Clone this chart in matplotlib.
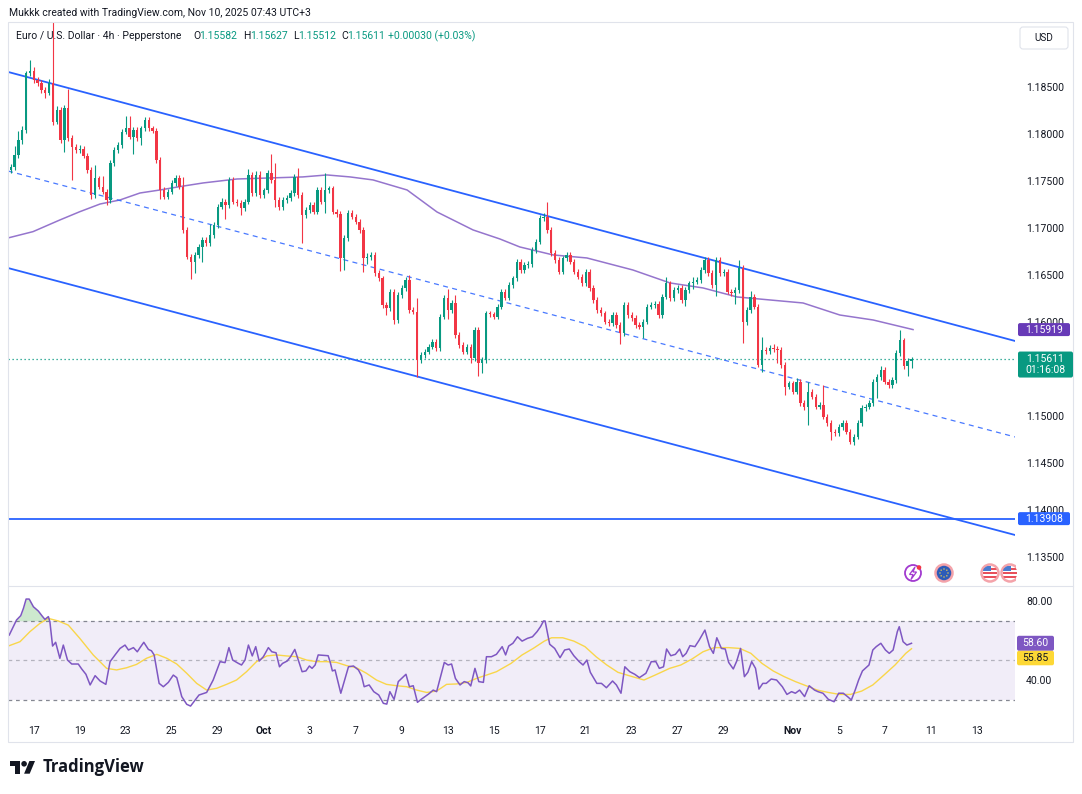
import numpy as np
import matplotlib
matplotlib.use("Agg")
import matplotlib.pyplot as plt
from matplotlib.patches import FancyBboxPatch, Circle, Rectangle, Polygon

# ---------------- data ----------------
first_open = 1.17620
close = [
    1.17652, 1.17777, 1.17936, 1.18042, 1.18645, 1.18670, 1.18575, 1.18539, 1.18468, 1.18433, 1.18539, 1.18131,
    1.18255, 1.17936, 1.18273, 1.17954, 1.17865, 1.17830, 1.17840, 1.17770, 1.17617, 1.17351, 1.17528, 1.17440,
    1.17387, 1.17298, 1.17688, 1.17830, 1.17883, 1.18025, 1.18060, 1.17972, 1.18042, 1.17954, 1.18060, 1.18149,
    1.18060, 1.18035, 1.17723, 1.17404, 1.17333, 1.17387, 1.17475, 1.17530, 1.17440, 1.16979, 1.16695, 1.16642,
    1.16713, 1.16801, 1.16872, 1.16837, 1.16926, 1.17032, 1.17227, 1.17280, 1.17245, 1.17511, 1.17280, 1.17265,
    1.17209, 1.17280, 1.17564, 1.17369, 1.17564, 1.17351, 1.17400, 1.17582, 1.17511, 1.17300, 1.17220, 1.17298,
    1.17316, 1.17369, 1.17546, 1.17351, 1.17138, 1.17192, 1.17245, 1.17174, 1.17404, 1.17280, 1.17404, 1.17420,
    1.17174, 1.17150, 1.16677, 1.16890, 1.17156, 1.17121, 1.17067, 1.16979, 1.16677, 1.16695, 1.16713, 1.16518,
    1.16464, 1.16181, 1.16145, 1.16323, 1.16021, 1.16287, 1.16358, 1.16447, 1.16128, 1.16110, 1.15596, 1.15649,
    1.15685, 1.15738, 1.15791, 1.15720, 1.16057, 1.16252, 1.16128, 1.16199, 1.15862, 1.15755, 1.15685, 1.15738,
    1.15613, 1.15915, 1.15560, 1.15596, 1.16092, 1.16080, 1.16057, 1.16163, 1.16320, 1.16260, 1.16394, 1.16464,
    1.16642, 1.16553, 1.16606, 1.16620, 1.16766, 1.16855, 1.17103, 1.17121, 1.16979, 1.16731, 1.16660, 1.16535,
    1.16677, 1.16713, 1.16642, 1.16535, 1.16482, 1.16411, 1.16535, 1.16358, 1.16234, 1.16128, 1.16092, 1.16004,
    1.15986, 1.16074, 1.15968, 1.15880, 1.16181, 1.16074, 1.16039, 1.15968, 1.15950, 1.16004, 1.16163, 1.16181,
    1.16190, 1.16074, 1.16270, 1.16411, 1.16252, 1.16340, 1.16358, 1.16234, 1.16340, 1.16411, 1.16429, 1.16445,
    1.16553, 1.16660, 1.16518, 1.16394, 1.16660, 1.16518, 1.16536, 1.16323, 1.16305, 1.16340, 1.16571, 1.16004,
    1.16128, 1.16269, 1.16163, 1.15542, 1.15702, 1.15690, 1.15720, 1.15715, 1.15702, 1.15542, 1.15312, 1.15347,
    1.15259, 1.15365, 1.15135, 1.15099, 1.15259, 1.15206, 1.15099, 1.15117, 1.14993, 1.14922, 1.14833, 1.14816,
    1.14886, 1.14922, 1.14833, 1.14727, 1.14780, 1.14922, 1.15082, 1.15099, 1.15135, 1.15365, 1.15418, 1.15489,
    1.15365, 1.15330, 1.15383, 1.15667, 1.15808, 1.15530, 1.15582, 1.15611,
]
upper_wick_pips = [
    3, 9, 10, 4, 3, 12, 4, 3, 3, 3, 5, 65,
    4, 3, 3, 20, 3, 3, 4, 3, 3, 3, 14, 3,
    11, 3, 3, 3, 3, 3, 13, 13, 3, 3, 3, 3,
    3, 3, 3, 3, 3, 3, 3, 3, 3, 10, 3, 3,
    3, 3, 3, 3, 12, 3, 3, 4, 3, 3, 3, 3,
    3, 3, 6, 3, 4, 4, 3, 3, 21, 18, 3, 3,
    3, 3, 3, 9, 3, 3, 3, 3, 3, 3, 18, 3,
    3, 3, 3, 3, 3, 3, 3, 3, 3, 4, 3, 3,
    3, 3, 3, 3, 3, 3, 3, 3, 5, 3, 14, 3,
    3, 3, 3, 3, 3, 3, 10, 3, 9, 3, 3, 3,
    3, 3, 3, 3, 3, 3, 3, 3, 3, 3, 3, 3,
    3, 3, 3, 3, 3, 3, 3, 4, 16, 3, 3, 3,
    3, 3, 3, 3, 3, 3, 3, 3, 3, 3, 3, 3,
    3, 3, 3, 3, 3, 3, 3, 3, 3, 3, 3, 3,
    3, 3, 3, 7, 3, 3, 3, 3, 3, 3, 5, 3,
    3, 3, 3, 3, 3, 3, 3, 3, 3, 3, 9, 3,
    3, 6, 3, 3, 14, 3, 3, 5, 3, 3, 3, 3,
    3, 4, 3, 3, 10, 3, 3, 3, 21, 3, 3, 3,
    3, 3, 3, 3, 3, 3, 3, 3, 3, 3, 3, 4,
    3, 3, 3, 3, 11, 2, 3, 1.6,
]
lower_wick_pips = [
    3, 4, 3, 4, 3, 3, 3, 3, 3, 5, 2, 4,
    3, 3, 13, 3, 35, 3, 3, 3, 3, 4, 3, 3,
    3, 5, 3, 3, 3, 3, 3, 3, 18, 3, 7, 3,
    3, 3, 3, 10, 3, 3, 3, 3, 3, 3, 2, 18,
    12, 3, 16, 3, 3, 3, 3, 3, 15, 3, 3, 3,
    7, 3, 3, 3, 3, 3, 3, 3, 3, 8, 3, 3,
    3, 3, 3, 3, 30, 3, 3, 3, 3, 3, 12, 3,
    3, 3, 14, 12, 3, 3, 3, 3, 15, 6, 4, 3,
    3, 3, 7, 3, 4, 3, 3, 3, 3, 3, 18, 3,
    3, 3, 3, 3, 3, 3, 10, 3, 3, 3, 3, 3,
    5, 3, 14, 10, 3, 3, 3, 3, 3, 3, 3, 3,
    3, 3, 3, 3, 3, 3, 3, 3, 3, 3, 3, 3,
    3, 3, 3, 3, 3, 3, 3, 3, 3, 3, 3, 3,
    3, 3, 3, 11, 3, 3, 3, 3, 3, 12, 3, 3,
    3, 3, 3, 3, 3, 3, 3, 3, 6, 3, 6, 3,
    3, 3, 3, 3, 12, 3, 3, 3, 3, 11, 3, 23,
    4, 3, 3, 2, 7, 3, 3, 3, 14, 3, 9, 3,
    3, 3, 3, 4, 20, 3, 3, 3, 3, 3, 9, 3,
    3, 3, 3, 3, 4, 3, 3, 3, 3, 3, 17, 3,
    3, 3, 3, 3, 3, 3, 11, 7,
]
change_abs = 0.00030
change_pct = 0.03
ma_pts = [(-0.7, 1.16894), (5.8, 1.16961), (12.8, 1.17085), (18.0, 1.17173), (23.3, 1.17255),
          (28.5, 1.17298), (33.7, 1.17372), (38.9, 1.17404), (44.1, 1.17440), (50.2, 1.17479),
          (59.0, 1.17521), (67.6, 1.17532), (76.2, 1.17543), (82.5, 1.17564), (88.5, 1.17543),
          (94.5, 1.17511), (103.4, 1.17404), (111.2, 1.17170), (120.6, 1.16979), (127.6, 1.16883),
          (132.8, 1.16798), (141.5, 1.16713), (150.3, 1.16681), (162.3, 1.16553), (172.0, 1.16415),
          (180.6, 1.16362), (189.5, 1.16266), (198.1, 1.16234), (206.7, 1.16202), (216.3, 1.16074),
          (225.0, 1.16021), (235.4, 1.15919)]
rsi_pts = [(-0.4, 62.8), (0.66, 67.0), (1.5, 70.4), (2.6, 72.6), (3.3, 76.3), (4.0, 81.0), (4.8, 81.0),
           (5.9, 77.1), (7.2, 74.9), (8.1, 72.6), (8.9, 70.7), (9.8, 72.1), (10.2, 69.5), (10.9, 57.2),
           (11.7, 59.1), (12.8, 51.0), (13.7, 57.7), (14.8, 50.1), (15.9, 48.1), (17.6, 48.1), (18.5, 45.6),
           (19.6, 42.9), (20.7, 37.5), (22.0, 42.2), (23.3, 39.5), (24.8, 37.8), (25.9, 49.3), (27.2, 52.7),
           (28.5, 56.0), (29.8, 57.7), (30.7, 55.2), (32.0, 56.4), (33.0, 54.3), (33.9, 56.9), (34.7, 59.1),
           (35.9, 55.5), (36.7, 54.8), (37.4, 52.7), (38.7, 38.3), (39.8, 36.6), (41.1, 38.8), (42.4, 42.5),
           (43.3, 41.2), (44.6, 31.6), (45.9, 27.7), (46.9, 26.8), (48.1, 29.9), (49.1, 32.4), (51.1, 33.7),
           (52.8, 40.0), (54.6, 49.3), (55.9, 48.8), (56.9, 56.4), (57.9, 50.1), (59.4, 48.4), (60.2, 47.6),
           (61.1, 50.1), (62.0, 57.7), (63.0, 52.2), (63.9, 56.9), (64.8, 49.6), (65.9, 51.8), (67.2, 56.4),
           (68.1, 54.3), (69.2, 53.8), (70.1, 46.7), (70.9, 48.4), (72.1, 49.6), (73.0, 51.8), (74.1, 55.5),
           (75.0, 50.1), (76.0, 44.2), (77.0, 44.6), (77.9, 47.1), (78.6, 45.9), (79.4, 47.6), (80.2, 52.7),
           (82.8, 52.3), (83.3, 49.3), (83.9, 44.6), (84.6, 45.1), (86.1, 33.3), (88.1, 46.7), (89.4, 47.1),
           (90.7, 45.1), (91.5, 42.2), (92.2, 36.6), (93.5, 37.5), (94.7, 34.1), (96.0, 32.4), (97.2, 28.2),
           (98.1, 27.8), (98.9, 34.1), (100.0, 30.2), (101.1, 39.2), (103.1, 42.9), (104.0, 36.6),
           (105.0, 37.1), (106.1, 28.7), (107.2, 30.4), (109.0, 32.9), (110.2, 34.9), (111.1, 34.1),
           (112.0, 40.8), (113.1, 48.9), (114.1, 47.6), (115.0, 48.1), (116.0, 40.8), (117.2, 37.5),
           (118.3, 39.2), (119.3, 38.6), (120.0, 37.0), (121.1, 45.9), (122.1, 39.2), (123.3, 38.8),
           (124.1, 51.8), (125.4, 51.8), (126.7, 53.0), (128.2, 56.9), (129.1, 52.7), (129.9, 57.2),
           (131.0, 58.6), (132.2, 61.9), (133.4, 59.7), (134.8, 61.1), (136.1, 61.9), (137.3, 64.5),
           (138.2, 67.0), (139.0, 69.9), (139.4, 69.9), (140.6, 58.1), (141.9, 56.0), (143.3, 51.3),
           (144.5, 55.2), (145.7, 55.7), (146.9, 52.3), (148.3, 49.3), (149.3, 47.6), (150.3, 50.1),
           (151.2, 43.9), (152.9, 38.3), (154.1, 38.3), (155.4, 36.1), (157.0, 39.5), (158.0, 37.5),
           (159.2, 33.3), (160.2, 46.7), (161.5, 44.2), (162.8, 42.9), (164.0, 41.2), (165.7, 43.4),
           (167.1, 49.3), (168.3, 49.3), (169.2, 45.9), (170.3, 46.7), (171.1, 55.7), (172.2, 52.3),
           (173.4, 53.0), (174.5, 55.7), (175.3, 51.8), (176.2, 53.5), (177.2, 57.4), (178.5, 56.9),
           (179.6, 60.2), (181.1, 65.3), (182.3, 56.9), (183.3, 53.5), (184.2, 61.4), (185.4, 56.0),
           (186.4, 55.7), (187.3, 48.9), (188.5, 45.6), (189.4, 49.6), (190.4, 56.0), (191.4, 41.7),
           (192.3, 43.9), (193.3, 49.3), (194.3, 45.9), (195.2, 35.4), (196.2, 38.3), (197.1, 38.3),
           (198.4, 40.5), (199.8, 40.0), (201.3, 36.6), (202.5, 32.7), (203.7, 34.1), (204.7, 33.3),
           (205.8, 34.9), (207.1, 31.6), (208.3, 37.1), (209.7, 34.9), (210.6, 34.1), (211.9, 33.3),
           (213.3, 30.2), (214.8, 29.0), (216.0, 33.3), (217.2, 33.3), (218.3, 31.6), (219.3, 29.9),
           (220.3, 34.9), (221.2, 40.0), (222.2, 44.6), (223.9, 47.6), (224.9, 55.2), (225.8, 56.9),
           (227.0, 58.6), (228.2, 55.2), (229.2, 53.5), (230.2, 55.2), (231.3, 64.5), (231.8, 67.0),
           (232.8, 59.4), (233.8, 57.7), (235.0, 58.60)]
rsi_ma_pts = [(-0.4, 57.4), (2.4, 59.4), (5.0, 64.5), (7.6, 68.7), (9.8, 71.2), (12.4, 69.9), (15.0, 67.8),
              (18.0, 61.1), (21.5, 52.7), (25.0, 45.9), (27.6, 45.1), (30.2, 46.2), (32.8, 47.9), (35.4, 51.0),
              (38.1, 53.0), (40.7, 51.0), (43.3, 48.1), (45.9, 43.4), (48.5, 38.3), (51.1, 34.9), (53.7, 35.8),
              (56.3, 37.8), (58.9, 40.0), (61.5, 44.2), (64.1, 49.3), (66.8, 52.2), (69.3, 52.7), (71.9, 52.2),
              (74.6, 51.8), (77.2, 50.1), (79.8, 49.3), (82.4, 49.3), (85.0, 48.9), (87.6, 47.3), (90.2, 46.2),
              (92.8, 43.4), (95.4, 40.0), (98.0, 37.8), (100.7, 37.1), (103.3, 36.6), (105.9, 34.9),
              (108.5, 33.7), (111.1, 34.4), (113.7, 37.8), (116.3, 38.0), (119.0, 38.8), (121.5, 40.8),
              (124.1, 42.5), (126.7, 44.2), (130.5, 48.4), (133.4, 52.7), (136.3, 56.0), (139.2, 59.7),
              (141.1, 61.4), (144.0, 61.4), (146.9, 59.7), (149.8, 56.9), (152.7, 51.8), (155.5, 47.6),
              (158.4, 43.9), (161.3, 42.2), (165.2, 40.0), (168.1, 42.5), (171.9, 45.9), (174.8, 47.6),
              (177.7, 50.6), (180.6, 54.3), (183.5, 56.4), (187.3, 56.4), (190.2, 56.0), (193.1, 53.5),
              (196.0, 48.4), (198.9, 44.6), (201.8, 41.7), (204.7, 39.2), (207.5, 37.1), (210.4, 34.9),
              (213.3, 33.7), (216.2, 32.7), (219.1, 32.7), (222.0, 34.4), (224.9, 37.5), (227.8, 42.5),
              (230.7, 47.6), (233.5, 53.5), (235.0, 55.85)]
channel_x = [-0.73, 262.0]
channel_upper = [1.18660, 1.15798]
channel_mid = [1.17606, 1.14777]
channel_lower = [1.16574, 1.13734]
support_level = 1.13908
price_ticks = [1.135, 1.140, 1.145, 1.150, 1.155, 1.160, 1.165, 1.170, 1.175, 1.180, 1.185]
rsi_ticks = [40, 80]
rsi_levels = [30, 50, 70]
date_day_index = [1, 3, 5, 7, 9, 11, 13, 15, 17, 19, 21, 23, 25, 27, 29, 31, 34, 36, 38, 40, 42]
date_labels = ['17', '19', '23', '25', '29', 'Oct', '3', '7', '9', '13', '15', '17', '21', '23',
               '27', '29', 'Nov', '5', '7', '11', '13']
candles_per_day = 6
countdown = "01:16:08"

# ---------------- style ----------------
plt.rcParams['font.family'] = ['Roboto', 'DejaVu Sans']
GREEN = '#089981'
RED = '#F23645'
TXT = '#131722'
BLUE = '#2962FF'
MA_C = '#9575CD'
RSI_C = '#7E57C2'
RSIMA_C = '#F9D64A'
FS = 7.5

W, H = 1082, 794
fig = plt.figure(figsize=(W / 100, H / 100), dpi=100)
fig.patch.set_facecolor('white')


def rect(x0, y0, x1, y1):
    return [x0 / W, 1 - y1 / H, (x1 - x0) / W, (y1 - y0) / H]


ax = fig.add_axes(rect(8, 22, 1015, 585))
axr = fig.add_axes(rect(8, 588, 1015, 712))
for a in (ax, axr):
    for s in a.spines.values():
        s.set_visible(False)
    a.set_facecolor('none')

# ---------------- candles ----------------
c = np.array(close)
o = np.r_[first_open, c[:-1]]
idx = np.arange(len(c))
up = c >= o
hi = np.maximum(o, c) + np.array(upper_wick_pips) * 1e-4
lo = np.minimum(o, c) - np.array(lower_wick_pips) * 1e-4
cols = np.where(up, GREEN, RED)
ax.vlines(idx, lo, hi, colors=cols, lw=0.8, zorder=3)
body = np.maximum(np.abs(c - o), 0.00011)
ax.bar(idx, body, bottom=np.minimum(o, c), width=0.62, color=cols, linewidth=0, zorder=4)

# moving average
ax.plot([p[0] for p in ma_pts], [p[1] for p in ma_pts], color=MA_C, lw=1.1, zorder=2)

# channel
ax.plot(channel_x, channel_upper, color=BLUE, lw=1.3, zorder=2.5)
ax.plot(channel_x, channel_lower, color=BLUE, lw=1.3, zorder=2.5)
ax.plot(channel_x, channel_mid, color=BLUE, lw=0.9, dashes=(4, 3.5), alpha=0.85, zorder=2.5)
ax.axhline(support_level, color=BLUE, lw=1.3, zorder=2.5)
ax.axhline(c[-1], color=GREEN, lw=0.9, ls=(0, (1, 2.2)), zorder=2)

ax.set_xlim(-0.73, 262.0)
ax.set_ylim(1.13202, 1.19191)
ax.set_xticks([])
ax.set_yticks(price_ticks)
ax.set_yticklabels([f"{t:.5f}" for t in price_ticks])
ax.yaxis.tick_right()
ax.tick_params(axis='y', length=0, pad=8, labelsize=FS, labelcolor=TXT)

# ---------------- RSI ----------------
rx = np.array([p[0] for p in rsi_pts])
ry = np.array([p[1] for p in rsi_pts])
axr.axhspan(rsi_levels[0], rsi_levels[2], color=RSI_C, alpha=0.1, lw=0, zorder=0)
for lv in rsi_levels:
    axr.axhline(lv, color='#787B86', lw=0.9, dashes=(3, 3), alpha=0.9 if lv != 50 else 0.5, zorder=1)
axr.fill_between(rx, ry, rsi_levels[2], where=ry > rsi_levels[2], interpolate=True,
                 color='#4CAF50', alpha=0.28, lw=0, zorder=1.5)
axr.plot(rx, ry, color=RSI_C, lw=1.1, zorder=3)
axr.plot([p[0] for p in rsi_ma_pts], [p[1] for p in rsi_ma_pts], color=RSIMA_C, lw=1.0, zorder=2.5)
axr.set_xlim(-0.73, 262.0)
axr.set_ylim(23.8, 86.6)
axr.set_yticks(rsi_ticks)
axr.set_yticklabels([f"{t:.2f}" for t in rsi_ticks])
axr.yaxis.tick_right()
axr.tick_params(axis='y', length=0, pad=8, labelsize=FS, labelcolor=TXT)
axr.set_xticks([d * candles_per_day for d in date_day_index])
axr.set_xticklabels(date_labels)
axr.tick_params(axis='x', length=0, pad=10, labelsize=FS, labelcolor=TXT)
for t in axr.get_xticklabels():
    if not t.get_text().isdigit():
        t.set_fontweight('bold')

# ---------------- overlay (pixel coordinates) ----------------
ov = fig.add_axes([0, 0, 1, 1])
ov.set_xlim(0, W)
ov.set_ylim(H, 0)
ov.axis('off')
ov.patch.set_alpha(0)

FRAME = '#E0E3EB'
ov.add_patch(Rectangle((8, 22), 1065, 720, fill=False, ec=FRAME, lw=0.8))
ov.plot([8, 1073], [586, 586], color=FRAME, lw=0.8)


def py(a, v):
    return H - a.transData.transform((0, v))[1]


def label_box(x0, x1, y0, y1, fc, lines, tc='white'):
    ov.add_patch(FancyBboxPatch((x0, y0), x1 - x0, y1 - y0,
                                boxstyle="round,pad=0,rounding_size=2", fc=fc, ec='none', zorder=6))
    for (ty, s) in lines:
        ov.text((x0 + x1) / 2, ty, s, ha='center', va='center', fontsize=FS, color=tc, zorder=7)


# header and legend
ov.text(9, 13, "Mukkk created with TradingView.com, Nov 10, 2025 07:43 UTC+3",
        fontsize=FS, color=TXT, va='center', ha='left')
leg = [(16, "Euro / U.S. Dollar · 4h · Pepperstone", TXT),
       (193, "O", TXT), (199.5, f"{o[-1]:.5f}", GREEN),
       (243, "H", TXT), (250, f"{hi[-1]:.5f}", GREEN),
       (293, "L", TXT), (298.5, f"{lo[-1]:.5f}", GREEN),
       (341, "C", TXT), (347, f"{c[-1]:.5f}", GREEN),
       (388, f"+{change_abs:.5f} (+{change_pct:.2f}%)", GREEN)]
for x, s, col in leg:
    ov.text(x, 36, s, fontsize=FS, color=col, va='center', ha='left')

# USD box
ov.add_patch(FancyBboxPatch((1020, 27), 48, 22, boxstyle="round,pad=0,rounding_size=3",
                            fc='white', ec=FRAME, lw=0.8))
ov.text(1044, 38, "USD", fontsize=FS - 0.3, color=TXT, ha='center', va='center')

# price labels
y_ma = py(ax, ma_pts[-1][1])
label_box(1018, 1070, y_ma - 6.5, y_ma + 6.5, '#673AB7', [(y_ma, f"{ma_pts[-1][1]:.5f}")])
y_c = py(ax, c[-1])
label_box(1018, 1073, y_c - 7, y_c + 19, GREEN, [(y_c, f"{c[-1]:.5f}"), (y_c + 11.5, countdown)])
y_s = py(ax, support_level)
label_box(1018, 1070, y_s - 6.5, y_s + 6.5, BLUE, [(y_s, f"{support_level:.5f}")])
y_r = py(axr, rsi_pts[-1][1])
label_box(1017, 1054, y_r - 7.5, y_r + 7.5, RSI_C, [(y_r, f"{rsi_pts[-1][1]:.2f}")])
label_box(1017, 1054, y_r + 7.5, y_r + 22, '#FDD835', [(y_r + 14.7, f"{rsi_ma_pts[-1][1]:.2f}")], tc=TXT)

# event icons
clip = Rectangle((0, 0), 1016, H, transform=ov.transData)
ov.add_patch(Circle((913, 573), 8, fc='white', ec='#A23BD0', lw=1.3, zorder=5))
ov.add_patch(Polygon([(915, 567), (909.5, 574.5), (913, 574.5), (911, 579.5), (916.5, 572), (913, 572)],
                     closed=True, fc='white', ec='#A23BD0', lw=0.9, zorder=6))
ov.add_patch(Circle((919, 567.5), 2.3, fc=RED, ec='none', zorder=7))
ov.add_patch(Circle((944, 573), 8.5, fc='#2D5BB8', ec='#F4A3AA', lw=1.8, zorder=5))
for k in range(8):
    ang = k * np.pi / 4
    ov.add_patch(Circle((944 + 4 * np.cos(ang), 573 + 4 * np.sin(ang)), 0.7, fc='#F5D04A', ec='none', zorder=6))
for fxp in (990, 1010):
    base = Circle((fxp, 573), 8.5, fc='white', ec='#F4A3AA', lw=1.8, zorder=5)
    ov.add_patch(base)
    base.set_clip_path(clip)
    for yy in (568, 572, 576):
        r = Rectangle((fxp - 7, yy), 14, 1.8, fc='#E8505B', ec='none', zorder=6)
        ov.add_patch(r)
        r.set_clip_path(Circle((fxp, 573), 7.5, transform=ov.transData))
    bl = Rectangle((fxp - 7.5, 565.5), 8, 5.5, fc='#4A7BD0', ec='none', zorder=6.5)
    ov.add_patch(bl)
    bl.set_clip_path(Circle((fxp, 573), 7.5, transform=ov.transData))

# TradingView logo
ov.add_patch(Polygon([(10, 761), (19.9, 761), (19.9, 773.7), (14.9, 773.7), (14.9, 765.9), (10, 765.9)],
                     closed=True, fc=TXT, ec='none'))
ov.add_patch(Circle((24.1, 763.8), 2.8, fc=TXT, ec='none'))
ov.add_patch(Polygon([(24.1, 773.7), (29.7, 773.7), (35, 761), (29.4, 761)], closed=True, fc=TXT, ec='none'))
ov.text(42.5, 767, "TradingView", fontsize=12, fontweight='bold', color=TXT, va='center', ha='left',
        family=['Open Sans', 'DejaVu Sans'])

fig.savefig("out.png", dpi=100, facecolor='white')
